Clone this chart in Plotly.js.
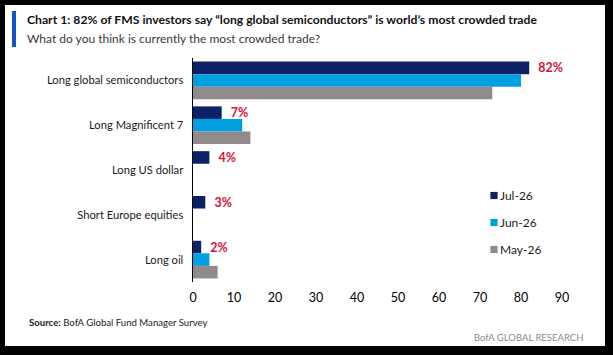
<!DOCTYPE html>
<html>
<head>
<meta charset="utf-8">
<script src="https://cdn.plot.ly/plotly-3.0.1.min.js"></script>
<style>
  html, body { margin: 0; padding: 0; background: #000; width: 613px; height: 355px; overflow: hidden; }
  #chart { position: absolute; left: 5px; top: 5px; width: 600px; height: 341px; background: #fff; }
</style>
</head>
<body>
<div id="chart"></div>
<script>
// Survey answers: share of respondents naming each trade as the most crowded
const categories = [
  'Long global semiconductors',
  'Long Magnificent 7',
  'Long US dollar',
  'Short Europe equities',
  'Long oil'
];
const seriesNames = ['Jul-26', 'Jun-26', 'May-26'];
const julValues = [82, 7, 4, 3, 2];
const junValues = [80, 12, null, null, 4];
const mayValues = [73, 14, null, null, 6];
const xTickValues = [0, 10, 20, 30, 40, 50, 60, 70, 80, 90];

const seriesColors = ['#0b2166', '#009fe0', '#918a8a'];
const FONT = 'Lato, "Liberation Sans", Arial, sans-serif';

// Figure geometry (pixels) and helpers turning pixel positions into paper coordinates
const W = 600, H = 341;
const M = { l: 188, r: 43, t: 53, b: 64 };
const plotW = W - M.l - M.r, plotH = H - M.t - M.b;
const xp = px => (px - M.l) / plotW;
const yp = py => 1 - (py - M.t) / plotH;

const seriesValues = [julValues, junValues, mayValues];
const traces = seriesNames.map((name, i) => {
  const t = {
    type: 'bar',
    orientation: 'h',
    name: name,
    legendgroup: name,
    y: categories,
    x: seriesValues[i],
    marker: { color: seriesColors[i], line: { width: 0 } },
    hoverinfo: 'x+name'
  };
  if (i === 0) {
    t.texttemplate = '\u00a0\u00a0%{x}%';
    t.textposition = 'outside';
    t.constraintext = 'none';
    t.cliponaxis = false;
    t.textfont = { family: FONT, size: 12.5, color: '#d7143c', weight: 'bold' };
  }
  return t;
});

const layout = {
  width: W,
  height: H,
  margin: M,
  paper_bgcolor: '#ffffff',
  plot_bgcolor: '#ffffff',
  font: { family: FONT, color: '#1a1a1a' },
  barmode: 'group',
  bargap: 0.16,
  bargroupgap: 0,
  showlegend: true,
  legend: {
    x: xp(455), y: yp(176), xanchor: 'left', yanchor: 'top',
    font: { family: FONT, size: 12, color: '#222' },
    tracegroupgap: 8,
    bgcolor: 'rgba(0,0,0,0)'
  },
  xaxis: {
    range: [0, 90],
    tickvals: xTickValues,
    showgrid: false, zeroline: false, showline: false,
    ticks: '',
    ticklabelstandoff: 6,
    tickfont: { family: FONT, size: 12.5, color: '#000' },
    fixedrange: true
  },
  yaxis: {
    type: 'category',
    categoryorder: 'array',
    categoryarray: categories,
    autorange: 'reversed',
    showgrid: false, zeroline: false,
    showline: true, linecolor: '#000', linewidth: 1.5,
    ticks: '',
    ticklabelstandoff: 6,
    tickfont: { family: FONT, size: 11.2, color: '#1a1a1a' },
    fixedrange: true
  },
  shapes: [
    { type: 'rect', xref: 'paper', yref: 'paper', layer: 'above',
      x0: xp(7), x1: xp(11), y0: yp(6), y1: yp(42),
      fillcolor: '#1452c8', line: { width: 0 } }
  ],
  annotations: [
    { xref: 'paper', yref: 'paper', x: xp(20), y: yp(15), xanchor: 'left', yanchor: 'middle', showarrow: false,
      text: '<b>Chart 1: 82% of FMS investors say “long global semiconductors” is world’s most crowded trade</b>',
      font: { family: FONT, size: 12.2, color: '#111' } },
    { xref: 'paper', yref: 'paper', x: xp(20), y: yp(33), xanchor: 'left', yanchor: 'middle', showarrow: false,
      text: 'What do you think is currently the most crowded trade?',
      font: { family: FONT, size: 12, color: '#3a3a3a' } },
    { xref: 'paper', yref: 'paper', x: xp(22), y: yp(317), xanchor: 'left', yanchor: 'middle', showarrow: false,
      text: '<b>Source:</b> BofA Global Fund Manager Survey',
      font: { family: FONT, size: 9.6, color: '#222' } },
    { xref: 'paper', yref: 'paper', x: xp(580), y: yp(332), xanchor: 'right', yanchor: 'middle', showarrow: false,
      text: 'BofA GLOBAL RESEARCH',
      font: { family: FONT, size: 9.5, color: '#8a8a8a' } }
  ]
};

Plotly.newPlot('chart', traces, layout, { displayModeBar: false, staticPlot: true }).then(gd => {
  // smaller legend swatches sitting closer to their labels
  gd.querySelectorAll('.legend .legendpoints path').forEach(p => {
    p.setAttribute('transform', 'translate(34,0) scale(0.6)');
  });
});
</script>
</body>
</html>
